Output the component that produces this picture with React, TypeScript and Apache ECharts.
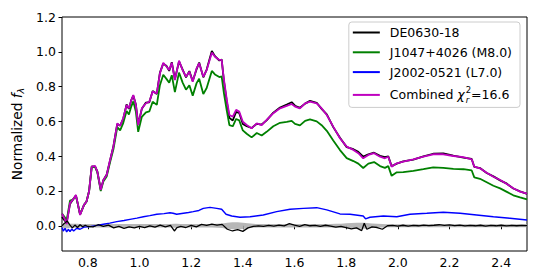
import React, { useEffect, useRef } from "react";
import * as echarts from "echarts";

// ---------- data ----------
const X_SPEC = [0.700, 0.710, 0.718, 0.731, 0.742, 0.754, 0.762, 0.770, 0.785, 0.795, 0.805, 0.815, 0.828, 0.837, 0.850, 0.860, 0.873, 0.886, 0.899, 0.914, 0.925, 0.937, 0.950, 0.959, 0.968, 0.976, 0.986, 0.995, 1.009, 1.025, 1.038, 1.051, 1.067, 1.079, 1.092, 1.105, 1.115, 1.125, 1.137, 1.153, 1.167, 1.180, 1.193, 1.206, 1.221, 1.231, 1.247, 1.260, 1.280, 1.292, 1.309, 1.318, 1.327, 1.338, 1.348, 1.361, 1.374, 1.386, 1.400, 1.415, 1.434, 1.454, 1.473, 1.492, 1.518, 1.544, 1.570, 1.589, 1.602, 1.621, 1.641, 1.660, 1.686, 1.705, 1.725, 1.750, 1.776, 1.802, 1.828, 1.847, 1.866, 1.886, 1.908, 1.931, 1.950, 1.963, 1.976, 1.996, 2.021, 2.060, 2.099, 2.137, 2.176, 2.215, 2.254, 2.286, 2.296, 2.318, 2.344, 2.370, 2.396, 2.422, 2.447, 2.473, 2.500];

const COMBINED = [0.070, 0.040, 0.010, 0.130, 0.150, 0.177, 0.120, 0.062, 0.120, 0.140, 0.200, 0.340, 0.344, 0.310, 0.206, 0.263, 0.292, 0.378, 0.455, 0.589, 0.574, 0.618, 0.694, 0.675, 0.720, 0.752, 0.694, 0.579, 0.675, 0.704, 0.713, 0.771, 0.761, 0.876, 0.937, 0.914, 0.895, 0.937, 0.838, 0.949, 0.895, 0.857, 0.886, 0.828, 0.905, 0.934, 0.857, 0.895, 0.995, 0.972, 0.953, 0.953, 0.838, 0.723, 0.637, 0.627, 0.666, 0.656, 0.598, 0.579, 0.560, 0.589, 0.579, 0.608, 0.647, 0.675, 0.689, 0.700, 0.685, 0.675, 0.704, 0.713, 0.704, 0.675, 0.637, 0.570, 0.503, 0.455, 0.436, 0.417, 0.388, 0.407, 0.417, 0.397, 0.388, 0.397, 0.340, 0.359, 0.368, 0.382, 0.397, 0.411, 0.411, 0.401, 0.394, 0.382, 0.340, 0.330, 0.305, 0.282, 0.263, 0.240, 0.216, 0.196, 0.185];

const DE0630 = [0.050, 0.030, 0.020, 0.125, 0.150, 0.175, 0.120, 0.065, 0.118, 0.140, 0.200, 0.342, 0.340, 0.312, 0.208, 0.262, 0.295, 0.376, 0.458, 0.585, 0.576, 0.615, 0.697, 0.672, 0.722, 0.748, 0.697, 0.583, 0.672, 0.708, 0.710, 0.774, 0.758, 0.880, 0.932, 0.918, 0.890, 0.940, 0.842, 0.945, 0.898, 0.853, 0.889, 0.832, 0.900, 0.938, 0.853, 0.898, 1.005, 0.975, 0.950, 0.956, 0.830, 0.712, 0.620, 0.605, 0.655, 0.648, 0.585, 0.572, 0.562, 0.586, 0.582, 0.606, 0.650, 0.680, 0.697, 0.710, 0.690, 0.678, 0.702, 0.718, 0.707, 0.672, 0.640, 0.567, 0.506, 0.452, 0.440, 0.425, 0.398, 0.410, 0.420, 0.402, 0.395, 0.399, 0.343, 0.357, 0.370, 0.380, 0.399, 0.414, 0.416, 0.403, 0.392, 0.384, 0.338, 0.332, 0.303, 0.284, 0.261, 0.242, 0.214, 0.198, 0.183];

const J1047 = [0.070, 0.050, 0.030, 0.145, 0.150, 0.170, 0.120, 0.065, 0.120, 0.140, 0.200, 0.335, 0.340, 0.305, 0.200, 0.255, 0.283, 0.365, 0.440, 0.567, 0.548, 0.590, 0.660, 0.640, 0.685, 0.715, 0.655, 0.540, 0.626, 0.652, 0.657, 0.713, 0.695, 0.808, 0.868, 0.843, 0.822, 0.865, 0.768, 0.880, 0.823, 0.782, 0.808, 0.748, 0.820, 0.845, 0.757, 0.792, 0.890, 0.870, 0.855, 0.858, 0.760, 0.660, 0.578, 0.572, 0.614, 0.606, 0.548, 0.529, 0.508, 0.533, 0.519, 0.540, 0.572, 0.592, 0.597, 0.603, 0.586, 0.577, 0.603, 0.611, 0.600, 0.578, 0.546, 0.490, 0.435, 0.389, 0.372, 0.357, 0.332, 0.357, 0.366, 0.343, 0.333, 0.343, 0.287, 0.307, 0.308, 0.316, 0.326, 0.336, 0.333, 0.327, 0.325, 0.318, 0.278, 0.270, 0.250, 0.230, 0.215, 0.195, 0.175, 0.163, 0.152];

const X_BLUE = [0.700, 0.705, 0.712, 0.718, 0.725, 0.731, 0.738, 0.745, 0.757, 0.770, 0.785, 0.808, 0.835, 0.860, 0.885, 0.912, 0.940, 0.963, 0.990, 1.015, 1.040, 1.067, 1.095, 1.118, 1.130, 1.144, 1.170, 1.190, 1.208, 1.230, 1.247, 1.273, 1.299, 1.318, 1.335, 1.357, 1.389, 1.428, 1.479, 1.531, 1.583, 1.634, 1.686, 1.725, 1.776, 1.815, 1.866, 1.875, 1.892, 1.944, 1.996, 2.047, 2.112, 2.176, 2.241, 2.305, 2.370, 2.434, 2.500];
const J2002 = [-0.010, -0.030, -0.015, -0.035, -0.020, -0.034, -0.018, -0.030, -0.014, -0.020, -0.008, -0.005, 0.002, 0.009, 0.015, 0.024, 0.030, 0.037, 0.044, 0.052, 0.058, 0.066, 0.070, 0.075, 0.072, 0.066, 0.072, 0.076, 0.081, 0.088, 0.100, 0.106, 0.100, 0.095, 0.066, 0.056, 0.049, 0.052, 0.062, 0.081, 0.095, 0.100, 0.104, 0.091, 0.068, 0.066, 0.056, 0.040, 0.049, 0.056, 0.052, 0.066, 0.072, 0.078, 0.072, 0.062, 0.052, 0.043, 0.033];

const X_RES = [0.700, 0.710, 0.720, 0.730, 0.740, 0.750, 0.760, 0.770, 0.780, 0.790, 0.800, 0.820, 0.840, 0.860, 0.880, 0.900, 0.920, 0.940, 0.960, 0.980, 1.000, 1.020, 1.040, 1.060, 1.080, 1.100, 1.120, 1.135, 1.145, 1.160, 1.180, 1.200, 1.220, 1.240, 1.260, 1.280, 1.300, 1.320, 1.340, 1.360, 1.380, 1.400, 1.420, 1.440, 1.460, 1.480, 1.500, 1.520, 1.540, 1.560, 1.580, 1.600, 1.620, 1.640, 1.660, 1.680, 1.700, 1.720, 1.740, 1.760, 1.780, 1.800, 1.820, 1.840, 1.860, 1.870, 1.880, 1.900, 1.920, 1.940, 1.960, 1.980, 2.000, 2.020, 2.040, 2.060, 2.080, 2.100, 2.120, 2.140, 2.160, 2.180, 2.200, 2.220, 2.240, 2.260, 2.280, 2.300, 2.320, 2.340, 2.360, 2.380, 2.400, 2.420, 2.440, 2.460, 2.480, 2.500];
const RESIDUAL = [0.000, 0.015, 0.028, 0.005, -0.012, 0.004, -0.010, 0.006, -0.006, 0.003, -0.004, -0.006, 0.006, -0.004, 0.004, -0.012, -0.004, -0.015, -0.006, -0.012, -0.003, -0.010, 0.000, -0.008, 0.004, -0.006, 0.002, -0.030, -0.010, -0.004, -0.010, 0.002, -0.006, 0.008, 0.002, 0.010, 0.004, 0.008, -0.020, -0.030, -0.022, -0.032, -0.012, -0.004, 0.000, -0.004, 0.002, -0.002, 0.004, 0.000, 0.012, 0.004, -0.003, 0.006, 0.000, 0.002, -0.004, 0.003, -0.002, -0.008, -0.004, -0.010, -0.018, -0.012, -0.028, 0.015, -0.020, -0.006, -0.010, -0.020, 0.000, 0.002, -0.002, 0.003, -0.002, 0.002, 0.000, 0.004, 0.001, 0.003, 0.006, 0.002, 0.005, 0.001, 0.004, -0.001, 0.002, 0.000, 0.003, -0.002, 0.002, 0.000, 0.003, -0.001, 0.002, 0.000, 0.002, 0.001];
const RES_ERR = [0.016, 0.016, 0.014, 0.012, 0.012, 0.011, 0.011, 0.010, 0.010, 0.010, 0.010, 0.010, 0.010, 0.010, 0.010, 0.010, 0.010, 0.010, 0.010, 0.010, 0.010, 0.010, 0.010, 0.010, 0.010, 0.010, 0.010, 0.011, 0.011, 0.010, 0.010, 0.010, 0.010, 0.010, 0.010, 0.010, 0.011, 0.013, 0.018, 0.020, 0.020, 0.018, 0.014, 0.011, 0.010, 0.010, 0.010, 0.010, 0.010, 0.010, 0.010, 0.010, 0.010, 0.010, 0.010, 0.010, 0.010, 0.010, 0.010, 0.011, 0.012, 0.014, 0.016, 0.017, 0.017, 0.017, 0.016, 0.013, 0.011, 0.010, 0.009, 0.009, 0.009, 0.009, 0.009, 0.009, 0.009, 0.009, 0.009, 0.009, 0.009, 0.009, 0.009, 0.009, 0.009, 0.009, 0.009, 0.009, 0.009, 0.009, 0.009, 0.009, 0.009, 0.009, 0.009, 0.009, 0.009, 0.009];

const X_TICKS = [0.8, 1.0, 1.2, 1.4, 1.6, 1.8, 2.0, 2.2, 2.4];
const Y_TICKS = [0.0, 0.2, 0.4, 0.6, 0.8, 1.0, 1.2];

const NAMES = ["DE0630-18", "J1047+4026 (M8.0)", "J2002-0521 (L7.0)", "Combined"];

const FONT = "DejaVu Sans";

const pairs = (xs: number[], ys: number[]) => xs.map((x, i) => [x, ys[i]]);

export default function App() {
  const ref = useRef<HTMLDivElement>(null);
  useEffect(() => {
    document.body.style.margin = "0";
    const chart = echarts.init(ref.current!, null, { renderer: "svg" });
    const lineSeries = (name: string, xs: number[], ys: number[], color: string, width: number, z: number) => ({
      type: "line",
      name,
      data: pairs(xs, ys),
      showSymbol: false,
      symbol: "none",
      lineStyle: { color, width },
      itemStyle: { color },
      z,
      silent: true,
    });
    chart.setOption({
      animation: false,
      textStyle: { fontFamily: FONT },
      grid: { left: 62, right: 11, top: 17, bottom: 21, show: true, borderColor: "#000", borderWidth: 1, backgroundColor: "transparent" },
      xAxis: {
        type: "value",
        min: 0.7,
        max: 2.5,
        splitLine: { show: false },
        axisLine: { show: false },
        axisTick: { show: true, length: 3.5, lineStyle: { color: "#000" }, customValues: X_TICKS },
        axisLabel: { color: "#000", fontSize: 12.5, fontFamily: FONT, margin: 5, customValues: X_TICKS, formatter: (v: number) => v.toFixed(1) },
      },
      yAxis: {
        type: "value",
        min: -0.145,
        max: 1.2,
        name: "Normalized {i|f}{s|λ}",
        nameLocation: "middle",
        nameGap: 34,
        nameTextStyle: {
          color: "#000",
          fontSize: 13.7,
          fontFamily: FONT,
          rich: {
            i: { fontSize: 13.7, fontStyle: "italic", fontFamily: FONT, color: "#000" },
            s: { fontSize: 9.5, fontStyle: "italic", fontFamily: FONT, color: "#000", padding: [6, 0, 0, 0] },
          },
        },
        splitLine: { show: false },
        axisLine: { show: false },
        axisTick: { show: true, length: 3.5, lineStyle: { color: "#000" }, customValues: Y_TICKS },
        axisLabel: { color: "#000", fontSize: 12.5, fontFamily: FONT, margin: 6, customValues: Y_TICKS, formatter: (v: number) => v.toFixed(1) },
      },
      legend: {
        data: NAMES,
        orient: "vertical",
        right: 18,
        top: 22,
        padding: [4, 8, 3, 4],
        itemGap: 6.8,
        itemWidth: 27,
        itemHeight: 2,
        icon: "rect",
        borderColor: "#cccccc",
        borderWidth: 1,
        borderRadius: 3,
        backgroundColor: "rgba(255,255,255,0.8)",
        textStyle: {
          color: "#000",
          fontSize: 12.5,
          fontFamily: FONT,
          padding: [0, 0, 0, 5],
          rich: {
            c: { fontSize: 12.5, fontStyle: "italic", fontFamily: FONT, color: "#000" },
            sub: { fontSize: 8.5, fontStyle: "italic", fontFamily: FONT, color: "#000", width: 0, padding: [10, 0, 0, 1] },
            sup: { fontSize: 8.5, fontFamily: FONT, color: "#000", padding: [0, 0, 10, 0] },
            n: { fontSize: 12.5, fontFamily: FONT, color: "#000" },
          },
        },
        formatter: (name: string) => (name === "Combined" ? "Combined {c|χ}{sub|r}{sup|2}{n|=16.6}" : name),
      },
      series: [
        {
          type: "custom",
          name: "uncertainty",
          silent: true,
          z: 1,
          clip: true,
          data: [[0.7, 0]],
          renderItem: (_p: any, api: any) => {
            const upper = X_RES.map((x, i) => api.coord([x, RES_ERR[i]]));
            const lower = X_RES.map((x, i) => api.coord([x, -RES_ERR[i]])).reverse();
            return { type: "polygon", shape: { points: upper.concat(lower) }, style: { fill: "#aaaaaa", opacity: 0.85 } };
          },
        },
        lineSeries(NAMES[0], X_SPEC, DE0630, "#000000", 1.8, 2),
        lineSeries(NAMES[1], X_SPEC, J1047, "#008000", 1.8, 3),
        lineSeries(NAMES[2], X_BLUE, J2002, "#0000ff", 1.4, 4),
        lineSeries(NAMES[3], X_SPEC, COMBINED, "#bf00bf", 1.8, 5),
        lineSeries("residual", X_RES, RESIDUAL, "#000000", 1.3, 6),
      ],
    });
    return () => chart.dispose();
  }, []);
  return <div ref={ref} style={{ position: "absolute", left: 0, top: 0, width: 538, height: 272 }} />;
}
